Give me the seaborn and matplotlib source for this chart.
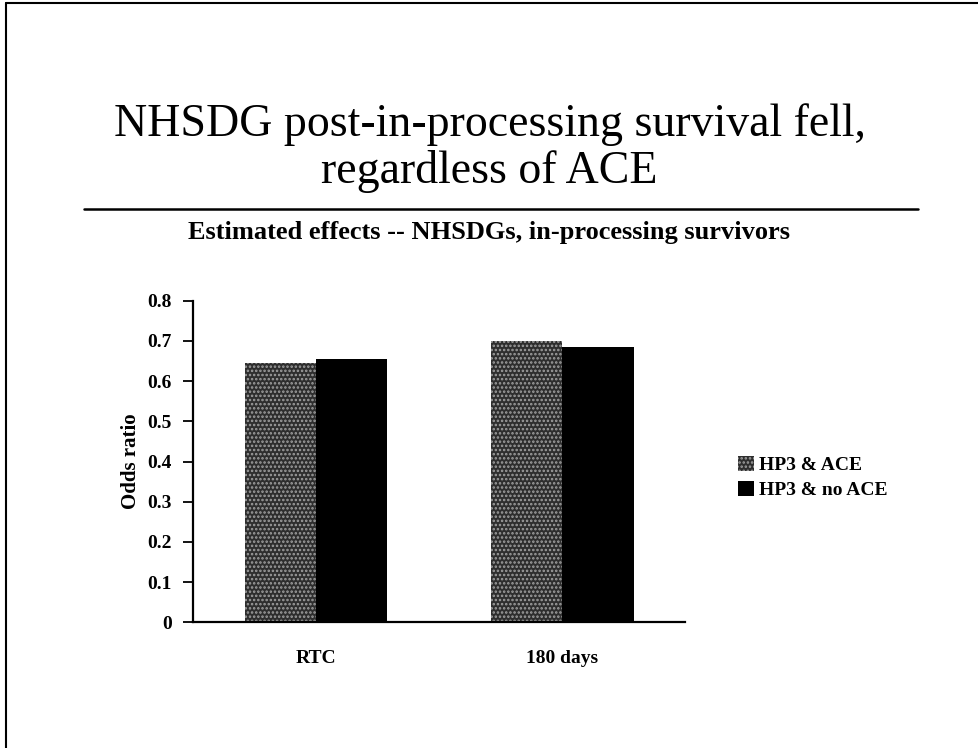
import pandas as pd
import matplotlib
matplotlib.use("Agg")
import matplotlib.pyplot as plt
from matplotlib.lines import Line2D
from matplotlib.patches import Patch
import seaborn as sns

# data
periods = ["RTC", "180 days"]
hp3_ace = [0.645, 0.700]
hp3_no_ace = [0.655, 0.685]
series_names = ["HP3 & ACE", "HP3 & no ACE"]
y_ticks = [0, 0.1, 0.2, 0.3, 0.4, 0.5, 0.6, 0.7, 0.8]
y_tick_labels = ["0", "0.1", "0.2", "0.3", "0.4", "0.5", "0.6", "0.7", "0.8"]

df = pd.DataFrame({
    "Period": periods * 2,
    "Odds ratio": hp3_ace + hp3_no_ace,
    "Group": [series_names[0]] * 2 + [series_names[1]] * 2,
})

sns.set_style("white")
plt.rcParams["font.family"] = ["Liberation Serif", "DejaVu Serif"]
plt.rcParams["text.color"] = "black"
plt.rcParams["xtick.color"] = "black"
plt.rcParams["ytick.color"] = "black"
plt.rcParams["axes.labelcolor"] = "black"
plt.rcParams["hatch.linewidth"] = 1.2

fig = plt.figure(figsize=(9.79, 7.48), dpi=100)
ax = fig.add_axes([0.197, 0.168, 0.503, 0.430])

sns.barplot(data=df, x="Period", y="Odds ratio", hue="Group",
            palette=["#2e2e2e", "black"], width=0.58, gap=0,
            saturation=1, linewidth=0, legend=False, ax=ax)

# stippled look for the first series
for bar in ax.containers[0]:
    bar.set_edgecolor("#a0a0a0")
    bar.set_hatch("....")
    bar.set_linewidth(0)

ax.set_ylim(0, 0.8)
ax.set_xlim(-0.5, 1.5)
ax.set_yticks(y_ticks)
ax.set_yticklabels(y_tick_labels, fontsize=14, fontweight="bold")
ax.set_xticks([0, 1])
ax.set_xticklabels(periods, fontsize=14, fontweight="bold")
ax.set_xticks([-0.5, 0.5, 1.5], minor=True)
ax.tick_params(axis="x", which="major", length=0, pad=20)
ax.tick_params(axis="x", which="minor", length=7, width=1.3, direction="out", color="black")
ax.tick_params(axis="y", length=7, width=1.3, direction="out", color="black", pad=8, left=True)
ax.set_xlabel("")
ax.set_ylabel("Odds ratio", fontsize=15, fontweight="bold", labelpad=5)
sns.despine(ax=ax)
for side in ["left", "bottom"]:
    ax.spines[side].set_color("black")
    ax.spines[side].set_linewidth(1.6)

handles = [Patch(facecolor="#2e2e2e", edgecolor="#a0a0a0", hatch="....", linewidth=0),
           Patch(facecolor="black", linewidth=0)]
fig.legend(handles, series_names, loc="upper left", bbox_to_anchor=(0.736, 0.414),
           frameon=False, handlelength=0.8, handleheight=0.8, handletextpad=0.3,
           labelspacing=0.35, prop={"weight": "bold", "size": 14})

# slide title, rule and chart subtitle
fig.text(0.5, 0.833, "NHSDG post-in-processing survival fell,", ha="center", va="center",
         fontsize=33)
fig.text(0.5, 0.771, "regardless of ACE", ha="center", va="center", fontsize=33)
fig.add_artist(Line2D([0.086, 0.938], [0.72, 0.72], color="black", lw=1.8))
fig.text(0.5, 0.689, "Estimated effects -- NHSDGs, in-processing survivors", ha="center",
         va="center", fontsize=19, fontweight="bold")

# page frame (top and left edges)
fig.add_artist(Line2D([0.006, 1.0], [0.996, 0.996], color="black", lw=1.5))
fig.add_artist(Line2D([0.006, 0.006], [0.0, 0.996], color="black", lw=1.5))

fig.savefig("out.png", dpi=100)
